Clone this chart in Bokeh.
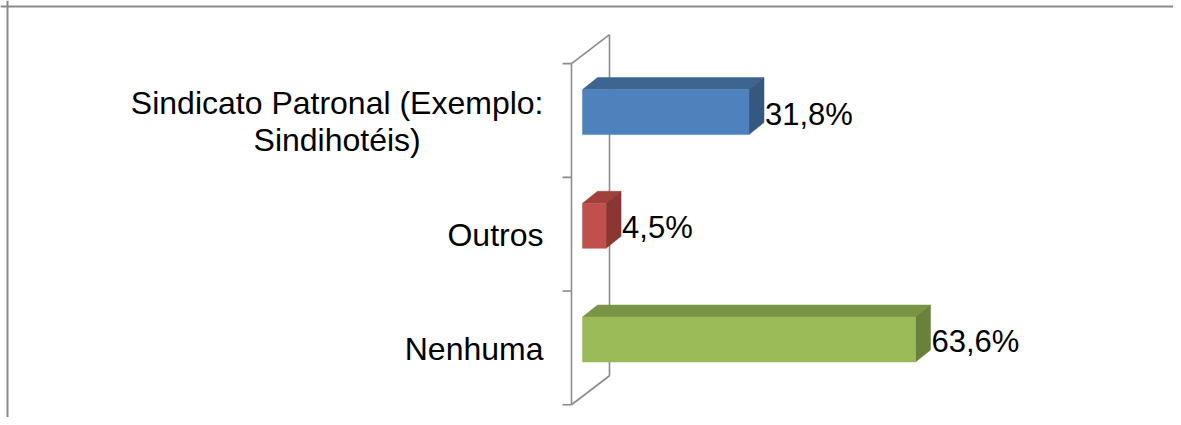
from bokeh.plotting import figure
from bokeh.models import Range1d, Span
from bokeh.core.properties import value
from bokeh.embed import file_html
from bokeh.resources import INLINE

# ---- data ----
categories = ["Sindicato Patronal (Exemplo:\nSindihotéis)", "Outros", "Nenhuma"]
values = [31.8, 4.5, 63.6]
value_labels = ["31,8%", "4,5%", "63,6%"]

front_colors = ["#4F81BD", "#C0504D", "#9BBB59"]
top_colors = ["#3E6591", "#A0403D", "#7A9446"]
side_colors = ["#34587F", "#8A3634", "#6A813C"]

# ---- layout constants (pixels) ----
W, H = 1173, 417
SX = 5.236      # px per percent
SY = 113.7      # px per category band
ORIGIN_X = 571  # px of wall front line
ORIGIN_Y = 120  # px of first band center

FDX, FDY = 11.0, -8.4    # bar front offset from wall front (px)
BDX, BDY = 26.0, -20.4   # bar back offset (px)
HALF = 22.5              # half bar thickness (px)
WDX, WDY = 38.0, -29.0   # wall depth (px)

p = figure(width=W, height=H, output_backend="svg", toolbar_location=None,
           x_range=Range1d(-ORIGIN_X / SX, (W - ORIGIN_X) / SX),
           y_range=Range1d((H - ORIGIN_Y) / SY, -ORIGIN_Y / SY),
           min_border=0)
p.axis.visible = False
p.grid.visible = False
p.outline_line_color = None
p.border_fill_color = "white"
p.background_fill_color = "white"

# outer frame (top and left edges)
p.add_layout(Span(location=(7 - ORIGIN_X) / SX, dimension="height", line_color="#8A8A8A", line_width=2))
p.add_layout(Span(location=(6 - ORIGIN_Y) / SY, dimension="width", line_color="#8A8A8A", line_width=2))

n = len(categories)
wall_col = "#8C8C8C"
top_edge, bot_edge = -0.5, n - 0.5
p.segment(x0=[0, WDX / SX, 0, 0], y0=[top_edge, top_edge + WDY / SY, top_edge, bot_edge],
          x1=[0, WDX / SX, WDX / SX, WDX / SX],
          y1=[bot_edge, bot_edge + WDY / SY, top_edge + WDY / SY, bot_edge + WDY / SY],
          line_color=wall_col, line_width=1.6)
ticks = [i - 0.5 for i in range(n + 1)]
p.segment(x0=[-9 / SX] * len(ticks), y0=ticks, x1=[0] * len(ticks), y1=ticks,
          line_color=wall_col, line_width=1.6)

# 3D bars
for i, v in enumerate(values):
    fx0, fx1 = FDX / SX, v + FDX / SX
    bx0, bx1 = BDX / SX, v + BDX / SX
    ft, fb = i + (FDY - HALF) / SY, i + (FDY + HALF) / SY
    bt, bb = i + (BDY - HALF) / SY, i + (BDY + HALF) / SY
    p.patch([fx0, fx1, bx1, bx0], [ft, ft, bt, bt], fill_color=top_colors[i], line_color=top_colors[i], line_width=0.5)
    p.patch([fx1, bx1, bx1, fx1], [ft, bt, bb, fb], fill_color=side_colors[i], line_color=side_colors[i], line_width=0.5)
    p.quad(left=fx0, right=fx1, top=ft, bottom=fb, fill_color=front_colors[i], line_color=front_colors[i], line_width=0.5)

font = value("Liberation Sans")
p.text(x=[-28 / SX] * n, y=[i + 1 / SY for i in range(n)], text=categories,
       anchor="center_right", text_align="center", text_baseline="middle",
       text_font=font, text_font_size="32px", text_color="black", text_line_height=1.03)
p.text(x=[v + (BDX + 1) / SX for v in values], y=[i + (FDY + 2) / SY for i in range(n)],
       text=value_labels, text_align="left", text_baseline="middle",
       text_font=font, text_font_size="31px", text_color="black")

open("out.html", "w").write(file_html(p, INLINE))
